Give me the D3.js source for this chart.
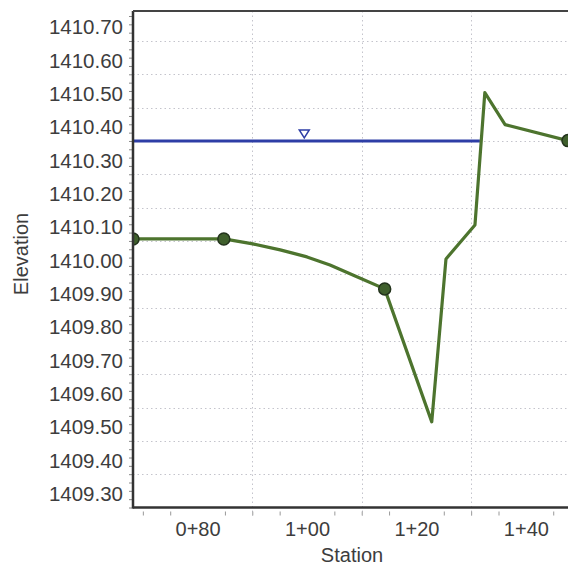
<!DOCTYPE html>
<html>
<head>
<meta charset="utf-8">
<script src="https://cdn.jsdelivr.net/npm/d3@7"></script>
<style>
  html, body { margin: 0; padding: 0; background: #fff; }
  svg { display: block; }
  text { font-family: "Liberation Sans", Arial, sans-serif; fill: #3a3a3a; }
</style>
</head>
<body>
<svg id="chart" width="568" height="567"></svg>
<script>
// ---- data ----
const stations   = [68.2, 84.8, 90.1, 95.1, 100.0, 104.2, 108.8, 114.2, 122.8, 125.4, 130.7, 132.5, 136.2, 147.7];
const elevations = [1410.106, 1410.106, 1410.091, 1410.073, 1410.052, 1410.028, 1409.995, 1409.956, 1409.557, 1410.046, 1410.148, 1410.545, 1410.449, 1410.401];
const markerIdx  = [0, 1, 7, 13];
const waterSurface = 1410.40;
const waterStations = [68.2, 131.6];
const wsMarkerStation = 99.5;
const xDomain = [68.2, 147.7];
const yDomain = [1409.30, 1410.79];
const xTickValues = [80, 100, 120, 140];
const xTickLabels = ["0+80", "1+00", "1+20", "1+40"];
const xGridValues = [90, 110, 130];
const xMinorValues = [70, 75, 85, 90, 95, 105, 110, 115, 125, 130, 135, 145];
const yTickValues = [1409.30, 1409.40, 1409.50, 1409.60, 1409.70, 1409.80, 1409.90, 1410.00, 1410.10, 1410.20, 1410.30, 1410.40, 1410.50, 1410.60, 1410.70];
const yTickLabels = ["1409.30","1409.40","1409.50","1409.60","1409.70","1409.80","1409.90","1410.00","1410.10","1410.20","1410.30","1410.40","1410.50","1410.60","1410.70"];
const xTitle = "Station";
const yTitle = "Elevation";

// ---- layout ----
const L = 133, R = 568, T = 11, B = 507.5;
const svg = d3.select("#chart");
const x = d3.scaleLinear().domain(xDomain).range([L, R]);
const y = d3.scaleLinear().domain(yDomain).range([B, T]);

svg.append("defs").append("clipPath").attr("id", "plotClip")
  .append("rect").attr("x", L).attr("y", T).attr("width", R - L).attr("height", B - T);

// grid lines
const grid = svg.append("g");
grid.selectAll(".hg").data(yTickValues.slice(1)).enter().append("line")
  .attr("x1", L).attr("x2", R)
  .attr("y1", d => Math.round(y(d)) + 0.5).attr("y2", d => Math.round(y(d)) + 0.5)
  .attr("stroke", "#c4c4cc").attr("stroke-width", 1).attr("stroke-dasharray", "1.5,3");
grid.selectAll(".vg").data(xGridValues).enter().append("line")
  .attr("y1", T).attr("y2", B + 8)
  .attr("x1", d => Math.round(x(d)) + 0.5).attr("x2", d => Math.round(x(d)) + 0.5)
  .attr("stroke", "#c4c4cc").attr("stroke-width", 1).attr("stroke-dasharray", "1.5,3");

// minor ticks on y axis
const yMinor = d3.range(0, 60).map(i => yDomain[0] + i * 0.025).filter(v => v <= yDomain[1]);
svg.append("g").attr("transform", `translate(${L},0)`)
  .call(d3.axisLeft(y).tickValues(yMinor).tickSize(4).tickFormat(""))
  .call(g => g.select(".domain").remove())
  .call(g => g.selectAll("line").attr("stroke", "#888"));

// y labels (drawn above their grid lines as in the reference)
svg.append("g").attr("transform", `translate(${L - 10},0)`)
  .call(d3.axisLeft(y).tickValues(yTickValues).tickSize(0).tickPadding(0)
    .tickFormat((d, i) => yTickLabels[i]))
  .call(g => g.select(".domain").remove())
  .call(g => g.selectAll("text").attr("font-size", 20.5).attr("dy", "-0.35em")
    .style("fill", "#3d3d3d").attr("font-family", "Liberation Sans, Arial, sans-serif"));

// x minor ticks
svg.append("g").attr("transform", `translate(0,${B + 4})`)
  .call(d3.axisBottom(x).tickValues(xMinorValues).tickSize(4).tickFormat(""))
  .call(g => g.select(".domain").remove())
  .call(g => g.selectAll("line").attr("stroke", "#999"));

// x labels
svg.append("g").attr("transform", `translate(0,${B})`)
  .call(d3.axisBottom(x).tickValues(xTickValues).tickSize(0).tickPadding(14)
    .tickFormat((d, i) => xTickLabels[i]))
  .call(g => g.select(".domain").remove())
  .call(g => g.selectAll("text").attr("font-size", 20)
    .style("fill", "#3d3d3d").attr("font-family", "Liberation Sans, Arial, sans-serif"));

// titles
svg.append("text").attr("x", 352).attr("y", 562).attr("text-anchor", "middle")
  .attr("font-size", 20).style("fill", "#3d3d3d").text(xTitle);
svg.append("text").attr("transform", "translate(28,254) rotate(-90)")
  .attr("text-anchor", "middle").attr("font-size", 20).style("fill", "#3d3d3d").text(yTitle);

// plot contents
const plot = svg.append("g").attr("clip-path", "url(#plotClip)");

// water surface
plot.append("line")
  .attr("x1", x(waterStations[0])).attr("x2", x(waterStations[1]))
  .attr("y1", y(waterSurface)).attr("y2", y(waterSurface))
  .attr("stroke", "#2e3ea6").attr("stroke-width", 3);

// ws marker triangle
const tx = x(wsMarkerStation), ty = y(waterSurface);
plot.append("path")
  .attr("d", `M${tx - 5},${ty - 11} L${tx + 5},${ty - 11} L${tx},${ty - 3} Z`)
  .attr("fill", "#fff").attr("stroke", "#2e3ea6").attr("stroke-width", 1.5);

// ground line
const pts = stations.map((s, i) => [s, elevations[i]]);
plot.append("path").datum(pts)
  .attr("d", d3.line().x(d => x(d[0])).y(d => y(d[1])))
  .attr("fill", "none").attr("stroke", "#4d742e").attr("stroke-width", 3.2)
  .attr("stroke-linejoin", "round");

plot.selectAll("circle").data(markerIdx).enter().append("circle")
  .attr("cx", i => x(stations[i])).attr("cy", i => y(elevations[i]))
  .attr("r", 6).attr("fill", "#3f5f2c").attr("stroke", "#23331c").attr("stroke-width", 1.5);

// frame
svg.append("line").attr("x1", L).attr("x2", L).attr("y1", T).attr("y2", B + 1)
  .attr("stroke", "#333").attr("stroke-width", 2.5);
svg.append("line").attr("x1", L).attr("x2", R).attr("y1", B).attr("y2", B)
  .attr("stroke", "#333").attr("stroke-width", 2.5);
svg.append("line").attr("x1", L).attr("x2", R).attr("y1", T).attr("y2", T)
  .attr("stroke", "#444").attr("stroke-width", 2);
</script>
</body>
</html>
